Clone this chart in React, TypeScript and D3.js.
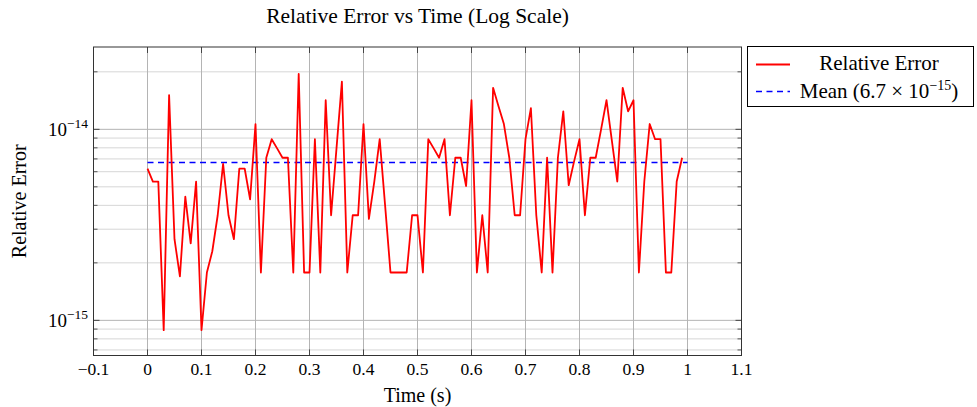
import React from "react";
import * as d3 from "d3";

const TIMES: number[] = [
  0.0, 0.01, 0.02, 0.03, 0.04, 0.05, 0.06, 0.07, 0.08, 0.09,
  0.1, 0.11, 0.12, 0.13, 0.14, 0.15, 0.16, 0.17, 0.18, 0.19,
  0.2, 0.21, 0.22, 0.23, 0.24, 0.25, 0.26, 0.27, 0.28, 0.29,
  0.3, 0.31, 0.32, 0.33, 0.34, 0.35, 0.36, 0.37, 0.38, 0.39,
  0.4, 0.41, 0.42, 0.43, 0.44, 0.45, 0.46, 0.47, 0.48, 0.49,
  0.5, 0.51, 0.52, 0.53, 0.54, 0.55, 0.56, 0.57, 0.58, 0.59,
  0.6, 0.61, 0.62, 0.63, 0.64, 0.65, 0.66, 0.67, 0.68, 0.69,
  0.7, 0.71, 0.72, 0.73, 0.74, 0.75, 0.76, 0.77, 0.78, 0.79,
  0.8, 0.81, 0.82, 0.83, 0.84, 0.85, 0.86, 0.87, 0.88, 0.89,
  0.9, 0.91, 0.92, 0.93, 0.94, 0.95, 0.96, 0.97, 0.98, 0.99,
];

const REL_ERROR: number[] = [
  6.22e-15, 5.33e-15, 5.33e-15, 8.88e-16, 1.51e-14, 2.66e-15, 1.7e-15, 4.44e-15, 2.53e-15, 5.33e-15,
  8.88e-16, 1.78e-15, 2.3e-15, 3.55e-15, 6.6e-15, 3.55e-15, 2.66e-15, 6.22e-15, 6.22e-15, 4.3e-15,
  1.066e-14, 1.78e-15, 7.1e-15, 8.88e-15, 7.95e-15, 7.1e-15, 7.1e-15, 1.78e-15, 1.95e-14, 1.78e-15,
  1.78e-15, 8.88e-15, 1.78e-15, 1.42e-14, 3.55e-15, 7.95e-15, 1.776e-14, 1.78e-15, 3.55e-15, 3.55e-15,
  1.066e-14, 3.4e-15, 5.33e-15, 8.88e-15, 4.0e-15, 1.78e-15, 1.78e-15, 1.78e-15, 1.78e-15, 3.55e-15,
  3.55e-15, 1.78e-15, 8.88e-15, 7.95e-15, 7.1e-15, 8.88e-15, 3.55e-15, 7.1e-15, 7.1e-15, 5.05e-15,
  1.42e-14, 1.78e-15, 3.55e-15, 1.78e-15, 1.65e-14, 1.32e-14, 1.066e-14, 7.1e-15, 3.55e-15, 3.55e-15,
  8.88e-15, 1.29e-14, 3.55e-15, 1.78e-15, 7.1e-15, 1.78e-15, 7.1e-15, 1.243e-14, 5.1e-15, 6.8e-15,
  8.88e-15, 3.55e-15, 7.1e-15, 7.1e-15, 1.0e-14, 1.42e-14, 8.7e-15, 5.33e-15, 1.65e-14, 1.243e-14,
  1.42e-14, 1.78e-15, 5.33e-15, 1.066e-14, 8.88e-15, 8.88e-15, 1.78e-15, 1.78e-15, 5.33e-15, 7.1e-15,
];

const MEAN_VALUE = 6.7e-15;
const MEAN_SPAN: number[] = [0, 1];

const X_TICKS: number[] = [-0.1, 0, 0.1, 0.2, 0.3, 0.4, 0.5, 0.6, 0.7, 0.8, 0.9, 1, 1.1];
const X_TICK_LABELS: string[] = ["−0.1", "0", "0.1", "0.2", "0.3", "0.4", "0.5", "0.6", "0.7", "0.8", "0.9", "1", "1.1"];
const Y_MAJOR: number[] = [1e-15, 1e-14];
const Y_MAJOR_EXP: string[] = ["−15", "−14"];
const Y_MINOR: number[] = [
  7e-16, 8e-16, 9e-16,
  2e-15, 3e-15, 4e-15, 5e-15, 6e-15, 7e-15, 8e-15, 9e-15,
  2e-14,
];

const TITLE = "Relative Error vs Time (Log Scale)";
const X_LABEL = "Time (s)";
const Y_LABEL = "Relative Error";
const LEGEND_SERIES = "Relative Error";

const FONT = "'Liberation Serif', 'Times New Roman', serif";

export default function App() {
  const left = 93.5, right = 741.5, top = 47, bottom = 355.5;
  const x = d3.scaleLinear().domain([-0.1, 1.1]).range([left, right]);
  const y = d3.scaleLog().domain([Math.pow(10, -15.184), Math.pow(10, -13.569)]).range([bottom, top]);

  const data = TIMES.map((t, i) => ({ t, v: REL_ERROR[i] }));
  const line = d3.line<{ t: number; v: number }>().x((d) => x(d.t)).y((d) => y(d.v));

  const yMinorVisible = Y_MINOR.filter((v) => y(v) >= top && y(v) <= bottom);

  return (
    <svg width={977} height={407} style={{ position: "absolute", left: 0, top: 0, background: "#fff" }} fontFamily={FONT}>
      <rect x={0} y={0} width={977} height={407} fill="#fff" />
      {yMinorVisible.map((v, i) => (
        <line key={"mg" + i} x1={left} x2={right} y1={y(v)} y2={y(v)} stroke="#d6d6d6" strokeWidth={1} />
      ))}
      {Y_MAJOR.map((v, i) => (
        <line key={"yg" + i} x1={left} x2={right} y1={y(v)} y2={y(v)} stroke="#b4b4b4" strokeWidth={1} />
      ))}
      {X_TICKS.map((v, i) => (
        <line key={"xg" + i} x1={x(v)} x2={x(v)} y1={top} y2={bottom} stroke="#b4b4b4" strokeWidth={1} />
      ))}
      {X_TICKS.map((v, i) => (
        <g key={"xt" + i} stroke="#444" strokeWidth={1}>
          <line x1={x(v)} x2={x(v)} y1={bottom} y2={bottom - 6} />
          <line x1={x(v)} x2={x(v)} y1={top} y2={top + 6} />
        </g>
      ))}
      {Y_MAJOR.map((v, i) => (
        <g key={"ytm" + i} stroke="#444" strokeWidth={1}>
          <line x1={left} x2={left + 6} y1={y(v)} y2={y(v)} />
          <line x1={right} x2={right - 6} y1={y(v)} y2={y(v)} />
        </g>
      ))}
      {yMinorVisible.map((v, i) => (
        <g key={"ytn" + i} stroke="#555" strokeWidth={1}>
          <line x1={left} x2={left + 4} y1={y(v)} y2={y(v)} />
          <line x1={right} x2={right - 4} y1={y(v)} y2={y(v)} />
        </g>
      ))}
      <line
        x1={x(MEAN_SPAN[0])}
        x2={x(MEAN_SPAN[1])}
        y1={y(MEAN_VALUE)}
        y2={y(MEAN_VALUE)}
        stroke="#0000ff"
        strokeWidth={1.6}
        strokeDasharray="6 4.5"
      />
      <path d={line(data) || ""} fill="none" stroke="#ff0000" strokeWidth={1.8} strokeLinejoin="round" />
      <rect x={left} y={top} width={right - left} height={bottom - top} fill="none" stroke="#333" strokeWidth={1} />
      {X_TICKS.map((v, i) => (
        <text key={"xl" + i} x={x(v)} y={375} textAnchor="middle" fontSize={17.5} fill="#000">
          {X_TICK_LABELS[i]}
        </text>
      ))}
      {Y_MAJOR.map((v, i) => (
        <text key={"yl" + i} x={88} y={y(v) + 6.5} textAnchor="end" fontSize={19} fill="#000">
          <tspan>10</tspan>
          <tspan dy={-8} fontSize={13.5}>{Y_MAJOR_EXP[i]}</tspan>
        </text>
      ))}
      <text x={(left + right) / 2} y={23} textAnchor="middle" fontSize={21.5} fill="#000">
        {TITLE}
      </text>
      <text x={(left + right) / 2} y={402} textAnchor="middle" fontSize={20} fill="#000">
        {X_LABEL}
      </text>
      <text transform={`translate(26, ${(top + bottom) / 2}) rotate(-90)`} textAnchor="middle" fontSize={20} fill="#000">
        {Y_LABEL}
      </text>
      <rect x={747.5} y={46.5} width={226} height={60} fill="#fff" stroke="#000" strokeWidth={1} />
      <line x1={756} x2={790} y1={64.5} y2={64.5} stroke="#ff0000" strokeWidth={1.8} />
      <text x={879} y={70} textAnchor="middle" fontSize={21} fill="#000">
        {LEGEND_SERIES}
      </text>
      <line x1={756} x2={790} y1={91.5} y2={91.5} stroke="#0000ff" strokeWidth={1.6} strokeDasharray="6 4.5" />
      <text x={879} y={98} textAnchor="middle" fontSize={21} fill="#000">
        <tspan>Mean (6.7 × 10</tspan>
        <tspan dy={-8} fontSize={14}>−15</tspan>
        <tspan dy={8}>)</tspan>
      </text>
    </svg>
  );
}
